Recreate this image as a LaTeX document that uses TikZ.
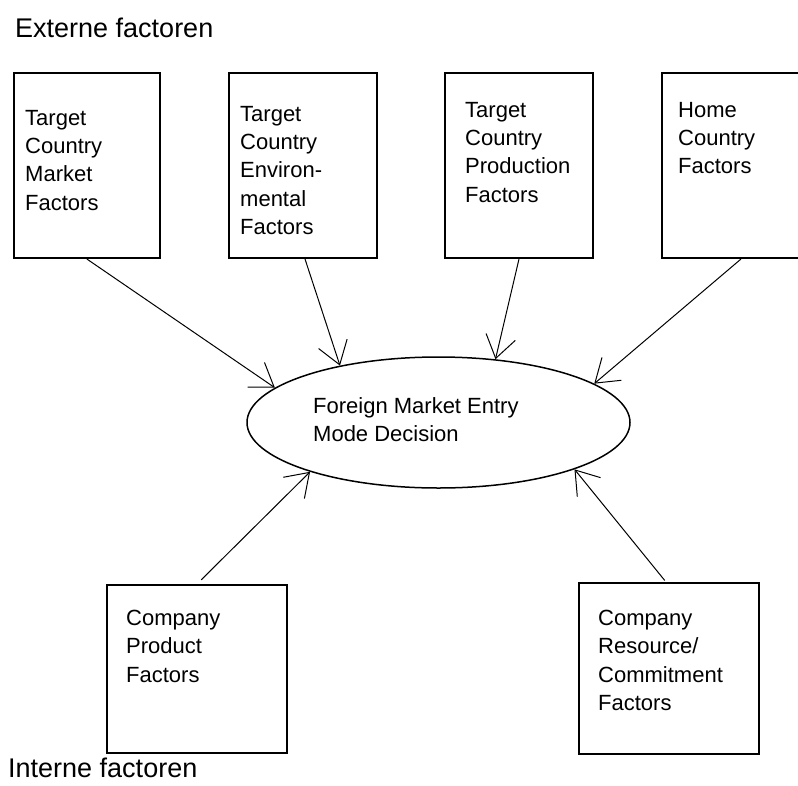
\documentclass[tikz,border=0pt]{standalone}
\usepackage{fontspec}
\setmainfont{Liberation Sans}
\usetikzlibrary{arrows.meta,shapes.geometric,calc}

\tikzset{
  factorbox/.style={draw, line width=2pt, rectangle, inner sep=0pt, anchor=north west},
  factortext/.style={inner sep=0pt, anchor=north west, align=left,
    font=\fontsize{22}{28.3}\selectfont},
  decision/.style={draw, line width=1.5pt, ellipse, inner sep=0pt,
    minimum width=383pt, minimum height=131pt},
  heading/.style={inner sep=0pt, anchor=base west, font=\fontsize{27}{32}\selectfont},
  conn/.style={line width=1pt, -{Straight Barb[length=22pt,width=30pt]}},
}

\begin{document}
\begin{tikzpicture}[x=1pt, y=-1pt]
  \clip (0,0) rectangle (798,785);
  \fill[white] (0,0) rectangle (798,785);

  % headings
  \node[heading] (ext) at (15,37) {Externe factoren};
  \node[heading] (int) at (8,777) {Interne factoren};

  % external factor boxes
  \node[factorbox, minimum width=146.3pt, minimum height=185pt] (b1) at (12.7,72) {};
  \node[factorbox, minimum width=148pt, minimum height=185pt] (b2) at (228,72) {};
  \node[factorbox, minimum width=148pt, minimum height=185pt] (b3) at (444,72) {};
  \node[factorbox, minimum width=147pt, minimum height=185pt] (b4) at (661,72) {};

  \node[factortext] (t1) at (25,110) {Target\\Country\\Market\\Factors};
  \node[factortext] (t2) at (240,106) {Target\\Country\\Environ-\\mental\\Factors};
  \node[factortext] (t3) at (465,102) {Target\\Country\\Production\\Factors};
  \node[factortext] (t4) at (678,102) {Home\\Country\\Factors};

  % internal factor boxes
  \node[factorbox, minimum width=180pt, minimum height=168pt] (b5) at (106,584) {};
  \node[factorbox, minimum width=180pt, minimum height=171pt] (b6) at (578,582) {};

  \node[factortext] (t5) at (126,610) {Company\\Product\\Factors};
  \node[factortext] (t6) at (598,610) {Company\\Resource/\\Commitment\\Factors};

  % central decision
  \node[decision] (ell) at (438.5,422.5) {};
  \node[factortext] (te) at (313,397) {Foreign Market Entry\\Mode Decision};

  % connectors
  \draw[conn] (b1.south) -- (ell.168.3);
  \draw[conn] ($(b2.south)+(2,0)$) -- (ell.150.9);
  \draw[conn] (b3.south) -- (ell.48.9);
  \draw[conn] ($(b4.south)+(5.5,0)$) -- (ell.14.2);
  \draw[conn, shorten <=6pt] (b5.north) -- (ell.201.1);
  \draw[conn, shorten <=2pt] ($(b6.north)+(-3,0)$) -- (ell.341.6);
\end{tikzpicture}
\end{document}
